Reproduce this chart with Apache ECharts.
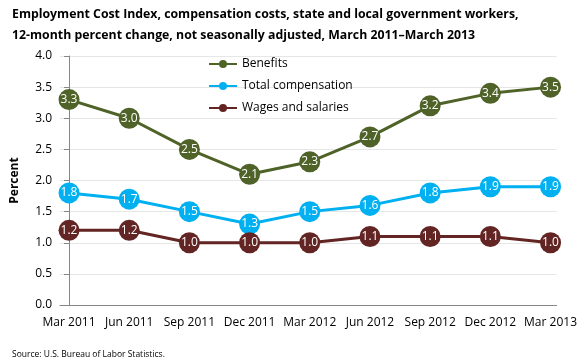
<!DOCTYPE html>
<html><head><meta charset="utf-8">
<script src="https://cdn.jsdelivr.net/npm/echarts@6/dist/echarts.min.js"></script>
<style>html,body{margin:0;padding:0;background:#fff}#c{width:580px;height:360px}</style>
</head><body><div id="c"></div>
<script>
var categories = ['Mar 2011','Jun 2011','Sep 2011','Dec 2011','Mar 2012','Jun 2012','Sep 2012','Dec 2012','Mar 2013'];
var benefits = [3.3,3.0,2.5,2.1,2.3,2.7,3.2,3.4,3.5];
var totalComp = [1.8,1.7,1.5,1.3,1.5,1.6,1.8,1.9,1.9];
var wages = [1.2,1.2,1.0,1.0,1.0,1.1,1.1,1.1,1.0];
var yTicks = [0,0.5,1,1.5,2,2.5,3,3.5,4];

var FONT = '"Open Sans", "Noto Sans", sans-serif';
function pairs(arr){ return arr.map(function(v,i){ return [i,v]; }); }
function mk(name, data, color){
  return {
    name: name, type: 'line', data: pairs(data),
    symbol: 'circle', symbolSize: 21,
    lineStyle: {color: color, width: 3},
    itemStyle: {color: color},
    label: {show: true, position: 'inside', color: '#fff', fontSize: 12, fontFamily: FONT,
      formatter: function(p){ return p.value[1].toFixed(1); }},
    z: 3
  };
}
var chart = echarts.init(document.getElementById('c'), null, {renderer:'canvas'});
chart.setOption({
  animation: false,
  textStyle: {fontFamily: FONT},
  title: [{
    text: 'Employment Cost Index, compensation costs, state and local government workers,\n12-month percent change, not seasonally adjusted, March 2011\u2013March 2013',
    left: 7, top: -1,
    textStyle: {fontSize: 12.3, fontWeight: 'bold', color: '#000', lineHeight: 21, fontFamily: FONT}
  },{
    text: 'Source: U.S. Bureau of Labor Statistics.',
    left: 7, top: 345,
    textStyle: {fontSize: 8.5, fontWeight: 'normal', color: '#000', fontFamily: FONT}
  }],
  legend: {
    orient: 'vertical', left: 203, top: 53, itemGap: 10, itemWidth: 28, itemHeight: 10,
    textStyle: {fontSize: 12, color: '#000', fontFamily: FONT},
    data: ['Benefits','Total compensation','Wages and salaries']
  },
  grid: {left: 60, right: 9, top: 56, bottom: 55},
  xAxis: {
    type: 'value', min: -0.15, max: 8.1,
    axisLine: {show: true, lineStyle: {color: '#868686', width: 1}},
    axisTick: {show: false},
    splitLine: {show: false},
    axisLabel: {customValues: [0,1,2,3,4,5,6,7,8], color: '#000', fontSize: 12, margin: 12, fontFamily: FONT,
      formatter: function(v){ return categories[Math.round(v)]; }}
  },
  yAxis: {
    type: 'value', min: 0, max: 4, interval: 0.5,
    name: 'Percent', nameLocation: 'middle', nameGap: 39, nameRotate: 90,
    nameTextStyle: {fontWeight: 'bold', fontSize: 12, color: '#000', fontFamily: FONT},
    axisLine: {show: true, lineStyle: {color: '#868686'}},
    axisTick: {show: true, length: 5, lineStyle: {color: '#868686'}},
    splitLine: {show: true, lineStyle: {color: '#e6e6e6'}},
    axisLabel: {color: '#000', fontSize: 12, margin: 8, fontFamily: FONT,
      formatter: function(v){ return v.toFixed(1); }}
  },
  series: [
    mk('Benefits', benefits, '#4F6228'),
    mk('Total compensation', totalComp, '#00B0F0'),
    mk('Wages and salaries', wages, '#632523')
  ]
});
</script></body></html>
